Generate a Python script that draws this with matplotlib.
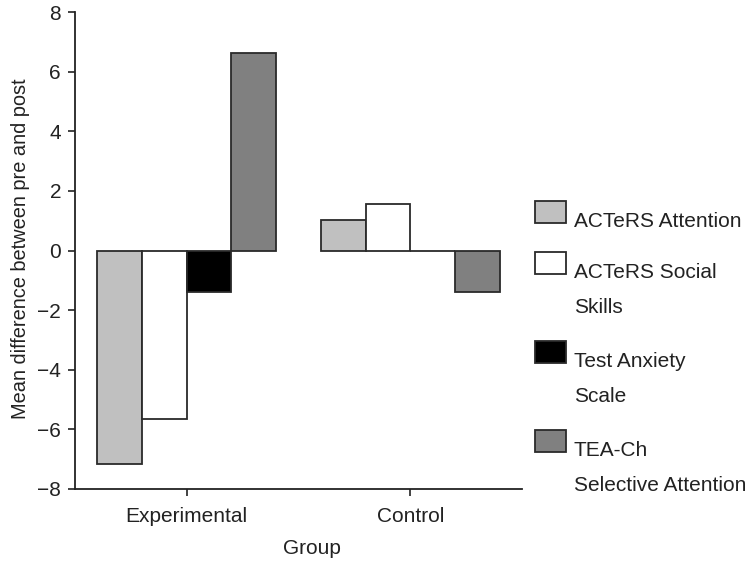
import matplotlib
matplotlib.use("Agg")
import matplotlib.pyplot as plt
from matplotlib.patches import Rectangle
import numpy as np

plt.rcParams['font.family'] = ['Liberation Sans', 'DejaVu Sans']

groups = ["Experimental", "Control"]
series = ["ACTeRS Attention", "ACTeRS Social\nSkills", "Test Anxiety\nScale", "TEA-Ch\nSelective Attention"]
acters_attention = [-7.17, 1.03]
acters_social = [-5.64, 1.57]
test_anxiety = [-1.40, 0.0]
teach_selective = [6.61, -1.38]
values = [acters_attention, acters_social, test_anxiety, teach_selective]
colors = ["#c0c0c0", "#ffffff", "#000000", "#808080"]
yticks = [-8, -6, -4, -2, 0, 2, 4, 6, 8]

W, H = 750, 563
fig = plt.figure(figsize=(7.5, 5.63), dpi=100)
ax0, ay0, aw, ah = 75, 489, 522 - 75, 489 - 12
ax = fig.add_axes([ax0 / W, 1 - ay0 / H, aw / W, ah / H])

fs = 15
x = np.arange(len(groups))
bw = 0.2
for i, (vals, c) in enumerate(zip(values, colors)):
    ax.bar(x + (i - 1.5) * bw, vals, width=bw, color=c, edgecolor="#2a2a2a", linewidth=1.3, zorder=2)

ax.set_xlim(-0.5, 1.5)
ax.set_ylim(-8, 8)
ax.set_yticks(yticks)
ax.set_yticklabels([("\u2212" + str(abs(t))) if t < 0 else str(t) for t in yticks])
ax.set_xticks(x)
ax.set_xticklabels(groups)
for s in ["top", "right"]:
    ax.spines[s].set_visible(False)
for s in ["left", "bottom"]:
    ax.spines[s].set_linewidth(1.3)
    ax.spines[s].set_color("#222222")
ax.tick_params(axis="both", labelsize=fs, length=5, width=1.2, color="#222222", labelcolor="#222222")
ax.tick_params(axis="x", pad=8)
ax.tick_params(axis="y", pad=5)
ax.set_ylabel("Mean difference between pre and post", fontsize=14.4, color="#222222")
ax.yaxis.set_label_coords((21 - ax0) / aw, (ay0 - 249) / ah)
ax.yaxis.label.set_va("center")
ax.set_xlabel("Group", fontsize=fs, color="#222222")
ax.xaxis.set_label_coords((312 - ax0) / aw, (ay0 - 549) / ah)
ax.xaxis.label.set_va("center")

# legend drawn manually to mimic layout
top = 201
for lab, c in zip(series, colors):
    lines = lab.split("\n")
    fig.add_artist(Rectangle((535 / W, 1 - (top + 22) / H), 31 / W, 22 / H,
                             transform=fig.transFigure, facecolor=c,
                             edgecolor="#2a2a2a", linewidth=1.3))
    for j, ln in enumerate(lines):
        fig.text(574 / W, 1 - (top + 26 + 35 * j) / H, ln, fontsize=fs,
                 color="#222222", va="baseline", ha="left")
    top += 51 + 38 * (len(lines) - 1)

fig.savefig("out.png", dpi=100)
